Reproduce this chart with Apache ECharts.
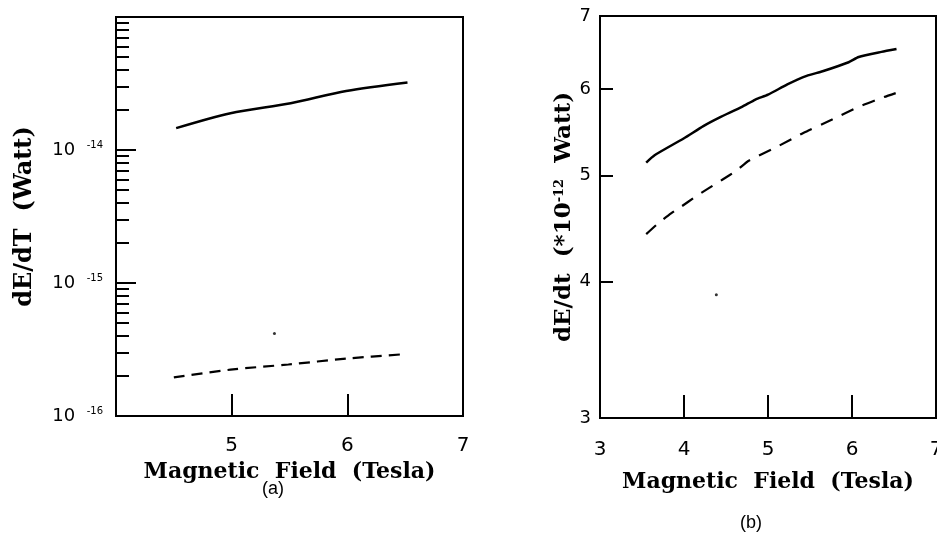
<!DOCTYPE html>
<html><head><meta charset="utf-8">
<script src="https://cdn.jsdelivr.net/npm/echarts@6/dist/echarts.min.js"></script>
<style>html,body{margin:0;padding:0;background:#fff}#c{width:937px;height:540px}</style>
</head><body><div id="c"></div>
<script>
// ---- Panel (a): log scale, Watt ----
const fieldA_solid = [4.52, 4.99, 5.51, 5.99, 6.52];
const powerA_solid = [1.46e-14, 1.89e-14, 2.25e-14, 2.78e-14, 3.22e-14];
const fieldA_dash = [4.50, 4.99, 5.49, 5.99, 6.50];
const powerA_dash = [1.95e-16, 2.23e-16, 2.44e-16, 2.70e-16, 2.92e-16];
const strayA = [[5.37, 4.17e-16]];
const xTicksA = [4, 5, 6, 7];
const xLabelsA = ['', '5', '6', '7'];
const yDecadesA = [-16, -15, -14, -13];
const yDecadeLabelsA = ['10  ', '-16', '10  ', '-15', '10  ', '-14'];

// ---- Panel (b): log scale, *10^-12 Watt ----
const fieldB_solid = [3.55, 3.65, 4.00, 4.23, 4.42, 4.69, 4.85, 5.00, 5.23, 5.46, 5.65, 5.96, 6.08, 6.35, 6.53];
const powerB_solid = [5.14, 5.22, 5.41, 5.55, 5.65, 5.78, 5.87, 5.93, 6.06, 6.17, 6.23, 6.35, 6.42, 6.49, 6.53];
const fieldB_dash = [3.55, 3.69, 3.85, 3.96, 4.15, 4.46, 4.62, 4.77, 5.08, 5.42, 5.77, 6.08, 6.38, 6.52];
const powerB_dash = [4.42, 4.52, 4.62, 4.68, 4.79, 4.96, 5.05, 5.16, 5.30, 5.47, 5.63, 5.78, 5.90, 5.95];
const strayB = [[4.385, 3.89]];
const xTicksB = [3, 4, 5, 6, 7];
const yTickValuesB = [3, 4, 5, 6, 7];

const zip = (xs, ys) => xs.map((x, i) => [x, ys[i]]);
const minorA = [];
for (let e = -16; e < -13; e++) for (let k = 2; k <= 9; k++) minorA.push(e + Math.log10(k));

const BLACK = '#000';
const titleFont = { fontFamily: 'DejaVu Serif', fontWeight: 'bold', fontSize: 22, color: BLACK };
const yTitleFont = { fontFamily: 'DejaVu Serif', fontWeight: 'bold', fontSize: 23, color: BLACK };
const tickFont = { fontFamily: 'DejaVu Sans', fontSize: 20, color: BLACK };

const chart = echarts.init(document.getElementById('c'), null, { renderer: 'canvas' });
chart.setOption({
  backgroundColor: '#fff',
  animation: false,
  grid: [
    { left: 116, top: 17, width: 347, height: 399, show: true, borderColor: BLACK, borderWidth: 2, containLabel: false, outerBoundsMode: 'none' },
    { left: 600, top: 16, width: 336, height: 402, show: true, borderColor: BLACK, borderWidth: 2, containLabel: false, outerBoundsMode: 'none' }
  ],
  xAxis: [
    {
      gridIndex: 0, type: 'value', min: 4, max: 7, interval: 1,
      name: 'Magnetic  Field  (Tesla)', nameLocation: 'middle', nameGap: 40, nameTextStyle: titleFont,
      axisLine: { show: true, lineStyle: { color: BLACK, width: 2 } },
      axisTick: { show: true, inside: true, length: 22, lineStyle: { color: BLACK, width: 2 } },
      axisLabel: Object.assign({ margin: 20, formatter: v => xLabelsA[xTicksA.indexOf(v)] || '' }, tickFont),
      splitLine: { show: false }
    },
    {
      gridIndex: 1, type: 'value', min: 3, max: 7, interval: 1,
      name: 'Magnetic  Field  (Tesla)', nameLocation: 'middle', nameGap: 53, nameTextStyle: titleFont,
      axisLine: { show: true, lineStyle: { color: BLACK, width: 2 } },
      axisTick: { show: true, inside: true, length: 23, lineStyle: { color: BLACK, width: 2 } },
      axisLabel: Object.assign({ margin: 22, formatter: v => String(v) }, tickFont),
      splitLine: { show: false }
    }
  ],
  yAxis: [
    {
      gridIndex: 0, type: 'log', logBase: 10, min: 1e-16, max: 1e-13, position: 'left',
      name: 'dE/dT  (Watt)', nameLocation: 'middle', nameGap: 79, nameTextStyle: Object.assign({}, yTitleFont, { fontSize: 24 }),
      axisLine: { show: true, lineStyle: { color: BLACK, width: 2 } },
      axisTick: { show: true, inside: true, length: 20, lineStyle: { color: BLACK, width: 2 } },
      axisLabel: {
        margin: 13,
        formatter: function (v) {
          const e = Math.round(Math.log10(v));
          const i = yDecadesA.indexOf(e);
          if (i < 0 || i * 2 + 1 >= yDecadeLabelsA.length) return '';
          return '{b|' + yDecadeLabelsA[i * 2] + '}{s|' + yDecadeLabelsA[i * 2 + 1] + '}';
        },
        rich: {
          b: { fontFamily: 'DejaVu Sans', fontSize: 18, color: BLACK, lineHeight: 20 },
          s: { fontFamily: 'DejaVu Sans', fontSize: 10, color: BLACK, verticalAlign: 'top', lineHeight: 10 }
        }
      },
      splitLine: { show: false }
    },
    {
      gridIndex: 0, type: 'value', min: -16, max: -13, position: 'left',
      axisLine: { show: false }, axisLabel: { show: false }, splitLine: { show: false },
      axisTick: { show: true, inside: true, length: 13, customValues: minorA, lineStyle: { color: BLACK, width: 2 } }
    },
    {
      gridIndex: 1, type: 'log', logBase: 10, min: 3, max: 7, position: 'left', show: false
    },
    {
      gridIndex: 1, type: 'value', min: Math.log10(3), max: Math.log10(7), position: 'left',
      name: '{t|dE/dt  (*10}{s|-12}{t|  Watt)}', nameLocation: 'middle', nameGap: 24,
      nameTextStyle: {
        rich: {
          t: yTitleFont,
          s: { fontFamily: 'DejaVu Serif', fontWeight: 'bold', fontSize: 13, color: BLACK, verticalAlign: 'top', lineHeight: 12 }
        }
      },
      axisLine: { show: true, lineStyle: { color: BLACK, width: 2 } },
      axisTick: { show: true, inside: true, length: 13, customValues: yTickValuesB.slice(1, -1).map(Math.log10), lineStyle: { color: BLACK, width: 2 } },
      axisLabel: {
        margin: 9, fontFamily: 'DejaVu Sans', fontSize: 18, color: BLACK,
        customValues: yTickValuesB.map(Math.log10),
        formatter: v => String(Math.round(Math.pow(10, v)))
      },
      splitLine: { show: false }
    }
  ],
  series: [
    { type: 'line', xAxisIndex: 0, yAxisIndex: 0, data: zip(fieldA_solid, powerA_solid), smooth: 0.3, showSymbol: false,
      lineStyle: { color: BLACK, width: 2.5 } },
    { type: 'line', xAxisIndex: 0, yAxisIndex: 0, data: zip(fieldA_dash, powerA_dash), smooth: 0.3, showSymbol: false,
      lineStyle: { color: BLACK, width: 2.2, type: [11, 7] } },
    { type: 'scatter', xAxisIndex: 0, yAxisIndex: 0, data: strayA, symbolSize: 3, itemStyle: { color: BLACK } },
    { type: 'line', xAxisIndex: 1, yAxisIndex: 2, data: zip(fieldB_solid, powerB_solid), smooth: 0.2, showSymbol: false,
      lineStyle: { color: BLACK, width: 2.5 } },
    { type: 'line', xAxisIndex: 1, yAxisIndex: 2, data: zip(fieldB_dash, powerB_dash), smooth: 0.2, showSymbol: false,
      lineStyle: { color: BLACK, width: 2.2, type: [13, 10] } },
    { type: 'scatter', xAxisIndex: 1, yAxisIndex: 2, data: strayB, symbolSize: 3, itemStyle: { color: BLACK } }
  ],
  graphic: [
    { type: 'text', left: 262, top: 480, style: { text: '(a)', fontFamily: 'Liberation Sans', fontSize: 18, fill: BLACK } },
    { type: 'text', left: 740, top: 514, style: { text: '(b)', fontFamily: 'Liberation Sans', fontSize: 18, fill: BLACK } }
  ]
});
</script>
</body></html>
